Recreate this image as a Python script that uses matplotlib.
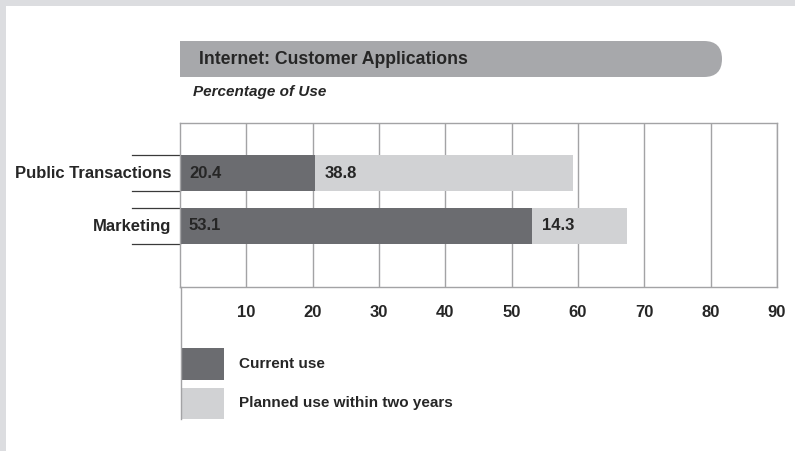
import matplotlib.pyplot as plt
from matplotlib.patches import Rectangle, FancyBboxPatch
from matplotlib.lines import Line2D

plt.rcParams['font.family'] = ['Liberation Sans', 'DejaVu Sans']

W, H = 795, 451  # 画布像素尺寸

categories = ['Public Transactions', 'Marketing']
current = [20.4, 53.1]
planned = [38.8, 14.3]
ticks = [10, 20, 30, 40, 50, 60, 70, 80, 90]
legend_labels = ['Current use', 'Planned use within two years']

dark = '#6b6c70'
light = '#d1d2d4'
txt = '#262626'
line_gray = '#a3a3a5'


def fx(px):  # 像素 -> 图坐标
	return px / W


def fy(py):
	return 1 - py / H


fig = plt.figure(figsize=(W / 100, H / 100), dpi=100)
fig.patch.set_facecolor('white')

# 外框浅灰边
fig.patches.append(Rectangle((0, fy(6)), 1, 6 / H, transform=fig.transFigure,
                             facecolor='#dcdde0', edgecolor='none', zorder=0))
fig.patches.append(Rectangle((0, 0), 6 / W, 1, transform=fig.transFigure,
                             facecolor='#dcdde0', edgecolor='none', zorder=0))

# 标题条, 右端圆角
tr = fig.dpi_scale_trans
fig.patches.append(FancyBboxPatch((1.80, (H - 77) / 100), 5.42, 0.36,
                                  boxstyle='round,pad=0,rounding_size=0.18',
                                  transform=tr, facecolor='#a7a8ab',
                                  edgecolor='none', zorder=1))
fig.patches.append(Rectangle((1.80, (H - 77) / 100), 1.0, 0.36, transform=tr,
                             facecolor='#a7a8ab', edgecolor='none', zorder=2))
fig.text(fx(199), fy(60), 'Internet: Customer Applications', fontsize=12.7,
         fontweight='bold', color=txt, va='center', ha='left', zorder=3)
fig.text(fx(193), fy(92), 'Percentage of Use', fontsize=11, fontweight='bold',
         fontstyle='italic', color=txt, va='center', ha='left')

ax = fig.add_axes([fx(180), fy(287), fx(777) - fx(180), fy(123) - fy(287)])
y = [1, 0]
bh = 0.68
ax.barh(y, current, height=bh, color=dark, zorder=2)
ax.barh(y, planned, left=current, height=bh, color=light, zorder=2)

for yi, c, p in zip(y, current, planned):
	ax.annotate(f'{c}', (0, yi), xytext=(6.5, 0), textcoords='offset points',
	            ha='left', va='center', fontsize=12, fontweight='bold', color=txt)
	ax.annotate(f'{p}', (c, yi), xytext=(7, 0), textcoords='offset points',
	            ha='left', va='center', fontsize=12, fontweight='bold', color=txt)
	# 类别标签两侧的横线
	for edge in (yi - bh / 2, yi + bh / 2):
		ax.plot([-48 / 597, 0], [edge, edge], transform=ax.get_yaxis_transform(),
		        color='#3a3a3a', lw=0.9, clip_on=False)
	ax.text(-9 / 597, yi, categories[y.index(yi)], transform=ax.get_yaxis_transform(),
	        ha='right', va='center', fontsize=12, fontweight='bold', color=txt)

ax.set_xlim(0, 90)
ax.set_ylim(-61 / 53, 1 + 50 / 53)
ax.set_xticks(ticks)
ax.set_xticklabels([str(t) for t in ticks], fontsize=12, fontweight='bold', color=txt)
ax.set_yticks([])
ax.tick_params(axis='x', length=0, pad=13)
ax.grid(axis='x', color=line_gray, lw=1.0)
ax.set_axisbelow(True)
for s in ax.spines.values():
	s.set_color(line_gray)
	s.set_linewidth(1.0)

# 左侧竖线向下延伸到图例
fig.lines.append(Line2D([fx(180.5), fx(180.5)], [fy(287), fy(419)],
                        transform=fig.transFigure, color=line_gray, lw=1.0))

# 图例
for (top, bot), col, lab in zip([(348, 380), (388, 419)], [dark, light], legend_labels):
	fig.patches.append(Rectangle((fx(181), fy(bot)), fx(224) - fx(181), fy(top) - fy(bot),
	                             transform=fig.transFigure, facecolor=col,
	                             edgecolor='none'))
	fig.text(fx(239), fy((top + bot) / 2), lab, fontsize=11, fontweight='bold',
	         color=txt, va='center', ha='left')

fig.savefig('out.png', dpi=100, facecolor=fig.get_facecolor())
